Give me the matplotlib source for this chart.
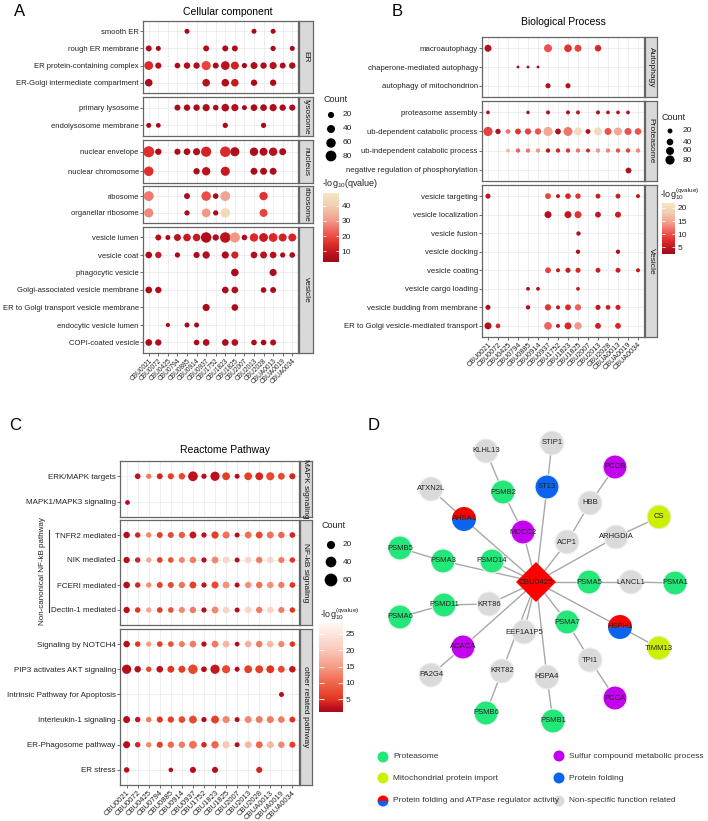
import numpy as np
import matplotlib.pyplot as plt
from matplotlib.colors import LinearSegmentedColormap, Normalize
from matplotlib.cm import ScalarMappable
from matplotlib.patches import Circle, Wedge, Polygon

plt.rcParams['font.family'] = ['Liberation Sans', 'DejaVu Sans']
plt.rcParams['mathtext.default'] = 'regular'

strains = ['CBU0021', 'CBU0072', 'CBU0425', 'CBU0794', 'CBU0885', 'CBU0914',
           'CBU0937', 'CBU1752', 'CBU1823', 'CBU1825', 'CBU2007', 'CBU2013',
           'CBU2028', 'CBUA0013', 'CBUA0019', 'CBUA0034']

# ---- A: cellular component (count, -log10 q), 0 = not enriched
cc_groups = ['ER', 'lysosome', 'nucleus', 'ribosome', 'vesicle']
cc_terms = {
    'ER': ['smooth ER', 'rough ER membrane', 'ER protein-containing complex',
           'ER-Golgi intermediate compartment'],
    'lysosome': ['primary lysosome', 'endolysosome membrane'],
    'nucleus': ['nuclear envelope', 'nuclear chromosome'],
    'ribosome': ['ribosome', 'organellar ribosome'],
    'vesicle': ['vesicle lumen', 'vesicle coat', 'phagocytic vesicle',
                'Golgi-associated vesicle membrane',
                'ER to Golgi transport vesicle membrane',
                'endocytic vesicle lumen', 'COPI-coated vesicle'],
}
cc_count = {
    'smooth ER': [0, 0, 0, 0, 10, 0, 0, 0, 0, 0, 0, 10, 0, 10, 0, 0],
    'rough ER membrane': [18, 10, 0, 0, 0, 0, 18, 0, 18, 18, 0, 0, 0, 12, 0, 10],
    'ER protein-containing complex': [50, 20, 0, 15, 22, 22, 55, 18, 50, 40, 12, 28, 22, 30, 18, 22],
    'ER-Golgi intermediate compartment': [35, 0, 0, 0, 0, 0, 35, 0, 35, 35, 0, 22, 0, 22, 0, 0],
    'primary lysosome': [0, 0, 0, 18, 22, 22, 30, 15, 35, 30, 10, 25, 25, 30, 22, 20],
    'endolysosome membrane': [10, 8, 0, 0, 0, 0, 0, 0, 12, 0, 0, 0, 12, 0, 0, 0],
    'nuclear envelope': [85, 22, 0, 20, 25, 30, 70, 0, 75, 55, 0, 45, 40, 45, 28, 0],
    'nuclear chromosome': [60, 0, 0, 0, 0, 22, 45, 0, 55, 0, 0, 28, 28, 28, 0, 0],
    'ribosome': [65, 0, 0, 0, 18, 0, 60, 15, 65, 0, 0, 0, 45, 0, 0, 0],
    'organellar ribosome': [55, 0, 0, 0, 12, 0, 50, 12, 60, 0, 0, 0, 40, 0, 0, 0],
    'vesicle lumen': [0, 18, 10, 28, 35, 35, 75, 22, 75, 70, 15, 45, 50, 50, 40, 40],
    'vesicle coat': [25, 22, 0, 12, 0, 20, 32, 0, 30, 30, 0, 25, 28, 25, 12, 15],
    'phagocytic vesicle': [0, 0, 0, 0, 0, 0, 0, 0, 0, 35, 0, 0, 0, 30, 0, 0],
    'Golgi-associated vesicle membrane': [25, 22, 0, 0, 0, 0, 0, 0, 25, 25, 0, 0, 15, 18, 0, 0],
    'ER to Golgi transport vesicle membrane': [0, 0, 0, 0, 0, 0, 30, 0, 0, 25, 0, 0, 0, 0, 0, 0],
    'endocytic vesicle lumen': [0, 0, 4, 0, 10, 10, 0, 0, 0, 0, 0, 0, 0, 0, 0, 0],
    'COPI-coated vesicle': [25, 22, 0, 0, 0, 15, 25, 0, 25, 25, 0, 15, 15, 18, 0, 0],
}
cc_q = {
    'smooth ER': [0, 0, 0, 0, 4, 0, 0, 0, 0, 0, 0, 4, 0, 4, 0, 0],
    'rough ER membrane': [5, 4, 0, 0, 0, 0, 6, 0, 5, 6, 0, 0, 0, 4, 0, 4],
    'ER protein-containing complex': [14, 6, 0, 5, 6, 6, 18, 5, 8, 12, 4, 6, 6, 7, 5, 6],
    'ER-Golgi intermediate compartment': [5, 0, 0, 0, 0, 0, 7, 0, 6, 10, 0, 5, 0, 5, 0, 0],
    'primary lysosome': [0, 0, 0, 5, 5, 5, 6, 5, 6, 6, 4, 5, 5, 6, 5, 5],
    'endolysosome membrane': [4, 4, 0, 0, 0, 0, 0, 0, 4, 0, 0, 0, 4, 0, 0, 0],
    'nuclear envelope': [15, 5, 0, 5, 5, 6, 12, 0, 14, 6, 0, 5, 6, 8, 5, 0],
    'nuclear chromosome': [15, 0, 0, 0, 0, 5, 8, 0, 10, 0, 0, 5, 5, 6, 0, 0],
    'ribosome': [26, 0, 0, 0, 5, 0, 20, 5, 32, 0, 0, 0, 16, 0, 0, 0],
    'organellar ribosome': [28, 0, 0, 0, 5, 0, 30, 5, 44, 0, 0, 0, 18, 0, 0, 0],
    'vesicle lumen': [0, 6, 5, 8, 10, 10, 6, 6, 8, 30, 5, 14, 10, 14, 12, 13],
    'vesicle coat': [5, 10, 0, 4, 0, 5, 6, 0, 5, 12, 0, 6, 8, 7, 5, 6],
    'phagocytic vesicle': [0, 0, 0, 0, 0, 0, 0, 0, 0, 5, 0, 0, 0, 5, 0, 0],
    'Golgi-associated vesicle membrane': [5, 6, 0, 0, 0, 0, 0, 0, 5, 6, 0, 0, 5, 5, 0, 0],
    'ER to Golgi transport vesicle membrane': [0, 0, 0, 0, 0, 0, 5, 0, 0, 5, 0, 0, 0, 0, 0, 0],
    'endocytic vesicle lumen': [0, 0, 4, 0, 4, 4, 0, 0, 0, 0, 0, 0, 0, 0, 0, 0],
    'COPI-coated vesicle': [5, 6, 0, 0, 0, 5, 6, 0, 5, 7, 0, 5, 5, 6, 0, 0],
}

# ---- B: biological process
bp_groups = ['Autophagy', 'Proteasome', 'Vesicle']
bp_terms = {
    'Autophagy': ['macroautophagy', 'chaperone-mediated autophagy',
                  'autophagy of mitochondrion'],
    'Proteasome': ['proteasome assembly', 'ub-dependent catabolic process',
                   'ub-independent catabolic process',
                   'negative regulation of phosphorylation'],
    'Vesicle': ['vesicle targeting', 'vesicle localization', 'vesicle fusion',
                'vesicle docking', 'vesicle coating', 'vesicle cargo loading',
                'vesicle budding from membrane',
                'ER to Golgi vesicle-mediated transport'],
}
bp_count = {
    'macroautophagy': [45, 0, 0, 0, 0, 0, 60, 0, 55, 45, 0, 38, 0, 0, 0, 0],
    'chaperone-mediated autophagy': [0, 0, 0, 4, 4, 4, 0, 0, 0, 0, 0, 0, 0, 0, 0, 0],
    'autophagy of mitochondrion': [0, 0, 0, 0, 0, 0, 22, 0, 22, 0, 0, 0, 0, 0, 0, 0],
    'proteasome assembly': [10, 0, 0, 0, 8, 0, 12, 0, 12, 12, 0, 12, 10, 10, 10, 0],
    'ub-dependent catabolic process': [80, 25, 18, 30, 35, 35, 80, 30, 75, 60, 20, 60, 45, 60, 45, 40],
    'ub-independent catabolic process': [0, 0, 10, 15, 15, 15, 15, 15, 15, 15, 12, 15, 15, 15, 15, 15],
    'negative regulation of phosphorylation': [0, 0, 0, 0, 0, 0, 0, 0, 0, 0, 0, 0, 0, 0, 30, 0],
    'vesicle targeting': [22, 0, 0, 0, 0, 0, 30, 12, 28, 25, 0, 20, 0, 20, 0, 12],
    'vesicle localization': [0, 0, 0, 0, 0, 0, 45, 0, 45, 45, 0, 30, 0, 32, 0, 0],
    'vesicle fusion': [0, 0, 0, 0, 0, 0, 0, 0, 0, 15, 0, 0, 0, 0, 0, 0],
    'vesicle docking': [0, 0, 0, 0, 0, 0, 0, 0, 0, 15, 0, 0, 0, 15, 0, 0],
    'vesicle coating': [0, 0, 0, 0, 0, 0, 30, 12, 22, 22, 0, 20, 0, 20, 0, 12],
    'vesicle cargo loading': [0, 0, 0, 0, 10, 10, 0, 0, 0, 10, 0, 0, 0, 0, 0, 0],
    'vesicle budding from membrane': [22, 0, 0, 0, 15, 0, 35, 12, 30, 35, 0, 22, 18, 22, 0, 0],
    'ER to Golgi vesicle-mediated transport': [45, 18, 0, 0, 0, 0, 55, 12, 45, 50, 0, 30, 0, 30, 0, 0],
}
bp_q = {
    'macroautophagy': [4, 0, 0, 0, 0, 0, 10, 0, 8, 9, 0, 7, 0, 0, 0, 0],
    'chaperone-mediated autophagy': [0, 0, 0, 3, 3, 3, 0, 0, 0, 0, 0, 0, 0, 0, 0, 0],
    'autophagy of mitochondrion': [0, 0, 0, 0, 0, 0, 4, 0, 4, 0, 0, 0, 0, 0, 0, 0],
    'proteasome assembly': [4, 0, 0, 0, 3, 0, 4, 0, 4, 5, 0, 4, 4, 4, 4, 0],
    'ub-dependent catabolic process': [9, 4, 12, 8, 9, 10, 15, 4, 12, 20, 4, 20, 10, 15, 10, 10],
    'ub-independent catabolic process': [0, 0, 16, 11, 12, 14, 5, 7, 8, 12, 7, 14, 13, 10, 9, 13],
    'negative regulation of phosphorylation': [0, 0, 0, 0, 0, 0, 0, 0, 0, 0, 0, 0, 0, 0, 4, 0],
    'vesicle targeting': [5, 0, 0, 0, 0, 0, 9, 5, 7, 8, 0, 6, 0, 6, 0, 5],
    'vesicle localization': [0, 0, 0, 0, 0, 0, 4, 0, 5, 8, 0, 5, 0, 6, 0, 0],
    'vesicle fusion': [0, 0, 0, 0, 0, 0, 0, 0, 0, 4, 0, 0, 0, 0, 0, 0],
    'vesicle docking': [0, 0, 0, 0, 0, 0, 0, 0, 0, 4, 0, 0, 0, 4, 0, 0],
    'vesicle coating': [0, 0, 0, 0, 0, 0, 9, 5, 6, 7, 0, 6, 0, 6, 0, 5],
    'vesicle cargo loading': [0, 0, 0, 0, 4, 4, 0, 0, 0, 5, 0, 0, 0, 0, 0, 0],
    'vesicle budding from membrane': [4, 0, 0, 0, 4, 0, 8, 5, 7, 11, 0, 5, 6, 6, 0, 0],
    'ER to Golgi vesicle-mediated transport': [4, 7, 0, 0, 0, 0, 11, 5, 7, 14, 0, 6, 0, 7, 0, 0],
}

# ---- C: reactome pathway
rp_groups = ['MAPK signaling', 'NF-kB signaling', 'other related pathway']
rp_terms = {
    'MAPK signaling': ['ERK/MAPK targets', 'MAPK1/MAPK3 signaling'],
    'NF-kB signaling': ['TNFR2 mediated', 'NIK mediated', 'FCERI mediated',
                        'Dectin-1 mediated'],
    'other related pathway': ['Signaling by NOTCH4', 'PIP3 activates AKT signaling',
                              'Intrinsic Pathway for Apoptosis',
                              'Interleukin-1 signaling', 'ER-Phagosome pathway',
                              'ER stress'],
}
rp_count = {
    'ERK/MAPK targets': [0, 6, 4, 7, 8, 10, 32, 4, 28, 18, 3, 18, 18, 20, 12, 8],
    'MAPK1/MAPK3 signaling': [2, 0, 0, 0, 0, 0, 0, 0, 0, 0, 0, 0, 0, 0, 0, 0],
    'TNFR2 mediated': [10, 5, 5, 7, 7, 9, 12, 4, 14, 13, 3, 12, 12, 12, 10, 6],
    'NIK mediated': [9, 5, 4, 6, 6, 8, 10, 4, 12, 12, 3, 10, 10, 10, 8, 5],
    'FCERI mediated': [11, 5, 5, 7, 7, 9, 12, 4, 13, 12, 3, 10, 10, 10, 9, 6],
    'Dectin-1 mediated': [9, 5, 4, 6, 6, 8, 10, 4, 12, 12, 3, 10, 10, 10, 8, 5],
    'Signaling by NOTCH4': [10, 5, 4, 6, 6, 8, 11, 4, 12, 12, 2, 10, 10, 10, 9, 5],
    'PIP3 activates AKT signaling': [28, 10, 5, 11, 12, 13, 30, 6, 28, 20, 3, 18, 18, 18, 12, 10],
    'Intrinsic Pathway for Apoptosis': [0, 0, 0, 0, 0, 0, 0, 0, 0, 0, 0, 0, 0, 0, 3, 0],
    'Interleukin-1 signaling': [13, 5, 5, 8, 9, 11, 18, 4, 18, 14, 3, 13, 13, 13, 11, 7],
    'ER-Phagosome pathway': [13, 5, 5, 8, 9, 10, 18, 5, 15, 15, 3, 12, 12, 12, 10, 8],
    'ER stress': [5, 0, 0, 0, 1, 0, 8, 0, 8, 0, 0, 0, 8, 0, 0, 0],
}
rp_q = {
    'ERK/MAPK targets': [0, 2.5, 12, 4, 6, 7, 2.5, 2, 2.5, 6, 2, 6, 4, 7, 7, 4],
    'MAPK1/MAPK3 signaling': [2, 0, 0, 0, 0, 0, 0, 0, 0, 0, 0, 0, 0, 0, 0, 0],
    'TNFR2 mediated': [2, 4, 13, 6, 7, 9, 3, 2.5, 6, 11, 2, 11, 7, 11, 10, 4],
    'NIK mediated': [2, 4, 16, 6, 8, 13, 12, 2, 13, 22, 2, 22, 12, 22, 12, 5],
    'FCERI mediated': [2, 4, 14, 6, 7, 11, 6, 2.5, 7, 14, 2, 14, 11, 14, 12, 5],
    'Dectin-1 mediated': [2, 5, 16, 6, 8, 13, 12, 2, 13, 22, 2, 22, 12, 22, 12, 5],
    'Signaling by NOTCH4': [2, 5, 15, 6, 8, 12, 12, 2, 12, 18, 2, 17, 12, 18, 13, 5],
    'PIP3 activates AKT signaling': [2, 2, 7, 2.5, 5, 6, 7, 2, 3, 7, 2, 6, 6, 5, 7, 3],
    'Intrinsic Pathway for Apoptosis': [0, 0, 0, 0, 0, 0, 0, 0, 0, 0, 0, 0, 0, 0, 2, 0],
    'Interleukin-1 signaling': [2, 3, 12, 5, 6, 7, 7, 2, 6, 13, 2, 13, 12, 12, 12, 5],
    'ER-Phagosome pathway': [2, 4, 13, 6, 10, 12, 11, 4, 10, 20, 2, 18, 10, 18, 13, 6],
    'ER stress': [2, 0, 0, 0, 2, 0, 2, 0, 2, 0, 0, 0, 4, 0, 0, 0],
}

# ---- D: interaction network of CBU0425
net_center = 'CBU0425'
net_group = {
    'PSMB2': 'Proteasome', 'PSMB5': 'Proteasome', 'PSMA3': 'Proteasome',
    'PSMD14': 'Proteasome', 'PSMA5': 'Proteasome', 'PSMA1': 'Proteasome',
    'PSMD11': 'Proteasome', 'PSMA6': 'Proteasome', 'PSMA7': 'Proteasome',
    'PSMB6': 'Proteasome', 'PSMB1': 'Proteasome',
    'PCCB': 'Sulfur', 'MCCC2': 'Sulfur', 'ACACA': 'Sulfur', 'PCCA': 'Sulfur',
    'CS': 'Mito', 'TIMM13': 'Mito', 'ST13': 'Folding',
    'AHSA1': 'Split', 'HSPH1': 'Split',
    'STIP1': 'Other', 'KLHL13': 'Other', 'ATXN2L': 'Other', 'HBB': 'Other',
    'ACP1': 'Other', 'ARHGDIA': 'Other', 'LANCL1': 'Other', 'KRT86': 'Other',
    'EEF1A1P5': 'Other', 'TPI1': 'Other', 'PA2G4': 'Other', 'KRT82': 'Other',
    'HSPA4': 'Other',
}
net_edges = [
    ('CBU0425', 'ST13'), ('CBU0425', 'MCCC2'), ('CBU0425', 'AHSA1'),
    ('CBU0425', 'ACP1'), ('CBU0425', 'ARHGDIA'), ('CBU0425', 'PSMD14'),
    ('CBU0425', 'PSMA3'), ('CBU0425', 'PSMA5'), ('CBU0425', 'KRT86'),
    ('CBU0425', 'EEF1A1P5'), ('CBU0425', 'PSMA7'), ('CBU0425', 'HSPH1'),
    ('CBU0425', 'ACACA'), ('CBU0425', 'KRT82'), ('CBU0425', 'HSPA4'),
    ('ST13', 'STIP1'), ('MCCC2', 'PSMB2'), ('PSMB2', 'KLHL13'),
    ('AHSA1', 'ATXN2L'), ('ACP1', 'HBB'), ('HBB', 'PCCB'), ('ARHGDIA', 'CS'),
    ('PSMA3', 'PSMB5'), ('PSMA5', 'LANCL1'), ('LANCL1', 'PSMA1'),
    ('KRT86', 'PSMD11'), ('PSMD11', 'PSMA6'), ('HSPH1', 'TIMM13'),
    ('PSMA7', 'TPI1'), ('TPI1', 'PCCA'), ('ACACA', 'PA2G4'),
    ('KRT82', 'PSMB6'), ('HSPA4', 'PSMB1'),
]
net_legend = [('Proteasome', 'Proteasome'), ('Sulfur', 'Sulfur compound metabolic process'),
              ('Mito', 'Mitochondrial protein import'), ('Folding', 'Protein folding'),
              ('Split', 'Protein folding and ATPase regulator activity'),
              ('Other', 'Non-specific function related')]

# layout of the network (pixel positions as drawn)
node_xy = {
    'CBU0425': (536, 582), 'STIP1': (552, 443), 'KLHL13': (486, 451),
    'PCCB': (615, 467), 'ST13': (547, 487), 'ATXN2L': (431, 489),
    'PSMB2': (503, 492), 'HBB': (590, 503), 'CS': (659, 517),
    'AHSA1': (464, 519), 'MCCC2': (523, 532), 'ACP1': (567, 542),
    'ARHGDIA': (616, 537), 'PSMB5': (400, 548), 'PSMA3': (443, 561),
    'PSMD14': (492, 561), 'PSMA5': (589, 582), 'LANCL1': (631, 582),
    'PSMA1': (675, 583), 'PSMD11': (444, 605), 'KRT86': (489, 604),
    'PSMA6': (400, 617), 'EEF1A1P5': (524, 632), 'PSMA7': (567, 622),
    'HSPH1': (620, 627), 'TIMM13': (659, 648), 'ACACA': (463, 647),
    'TPI1': (590, 660), 'PA2G4': (431, 675), 'KRT82': (502, 671),
    'HSPA4': (547, 677), 'PCCA': (615, 698), 'PSMB6': (486, 713),
    'PSMB1': (553, 721),
}
group_color = {'Proteasome': '#22e87a', 'Sulfur': '#c400f0', 'Mito': '#ccf000',
               'Folding': '#0a64f0', 'Other': '#dadada'}

W, H = 708, 821
fig = plt.figure(figsize=(W / 100, H / 100), dpi=100)


def box(x0, y0, x1, y1):
    return [x0 / W, 1 - y1 / H, (x1 - x0) / W, (y1 - y0) / H]


bg = fig.add_axes([0, 0, 1, 1])
bg.set_xlim(0, W)
bg.set_ylim(H, 0)
bg.axis('off')

cmap_ab = LinearSegmentedColormap.from_list('ab', [
    (0, '#a0081a'), (0.1, '#b8101e'), (0.25, '#dc2a28'), (0.42, '#f05a55'),
    (0.62, '#f2a08e'), (0.82, '#efcfb5'), (1, '#f7e6c4')])
cmap_c = LinearSegmentedColormap.from_list('c', [
    (0, '#a8081a'), (0.06, '#c01420'), (0.14, '#e2341f'), (0.32, '#ef6448'),
    (0.5, '#f49a84'), (0.72, '#f9cdbf'), (1, '#fff8f3')])
norm_a = Normalize(2.8, 48.5)
norm_b = Normalize(2.4, 21.9)
norm_c = Normalize(1.1, 28.3)


def size_a(c):
    return (12 + 1.3 * np.asarray(c)) * 0.5184


def size_b(c):
    return (4 + 1.0 * np.asarray(c)) * 0.5184


def size_c(c):
    return (18 + 2.4 * np.asarray(c)) * 0.5184


def dot_panel(groups, terms, counts, qvals, cmap, norm, size_fn, x0, x1, spans,
              ylab_fs=5.5, xlab_fs=5, strip_w=14):
    for k, grp in enumerate(groups):
        ya, yb = spans[k]
        rows = terms[grp]
        ax = fig.add_axes(box(x0, ya, x1, yb))
        for r, t in enumerate(rows):
            c = np.array(counts[t], dtype=float)
            q = np.array(qvals[t], dtype=float)
            idx = np.nonzero(c)[0]
            ax.scatter(idx, np.full(idx.size, r), s=size_fn(c[idx]), c=q[idx],
                       cmap=cmap, norm=norm, linewidths=0, zorder=3)
        ax.set_xlim(-0.6, len(strains) - 0.4)
        ax.set_ylim(len(rows) - 0.4, -0.6)
        ax.set_yticks(range(len(rows)))
        ax.set_yticklabels(rows, fontsize=ylab_fs, color='#222222')
        ax.set_xticks(range(len(strains)))
        ax.grid(True, color='#ebebeb', lw=0.6)
        ax.set_axisbelow(True)
        for sp in ax.spines.values():
            sp.set_color('#666666')
            sp.set_linewidth(0.9)
        ax.tick_params(length=2, width=0.5, color='#333333', pad=1)
        if k == len(groups) - 1:
            ax.set_xticklabels(strains, rotation=45, ha='right',
                               rotation_mode='anchor', fontsize=xlab_fs,
                               color='#222222')
        else:
            ax.tick_params(axis='x', bottom=False, labelbottom=False)
        st = fig.add_axes(box(x1 + 1, ya, x1 + 1 + strip_w, yb))
        st.set_facecolor('#d9d9d9')
        st.set_xticks([])
        st.set_yticks([])
        for sp in st.spines.values():
            sp.set_color('#666666')
            sp.set_linewidth(0.9)
        st.text(0.5, 0.5, grp, rotation=-90, ha='center', va='center',
                fontsize=6, color='#1a1a1a', transform=st.transAxes)


def legends(cmap, norm, size_fn, breaks, title_xy, dot_x, dot_ys, lab_x,
            bar, ticks, cb_title_xy, cb_title):
    bg.text(*title_xy, 'Count', fontsize=6.5, ha='left', va='center', color='#222222')
    bg.scatter([dot_x] * len(breaks), dot_ys, s=size_fn(breaks), color='black',
               linewidths=0)
    for b, y in zip(breaks, dot_ys):
        bg.text(lab_x, y, str(b), fontsize=6, ha='left', va='center', color='#222222')
    bg.text(*cb_title_xy, cb_title, fontsize=6.5, ha='left', va='center',
            color='#222222')
    cax = fig.add_axes(box(*bar))
    cb = fig.colorbar(ScalarMappable(norm=norm, cmap=cmap), cax=cax)
    cb.outline.set_visible(False)
    cb.set_ticks(ticks)
    cax.tick_params(length=0, labelsize=6, pad=2, labelcolor='#222222')
    cax.hlines(ticks, 0, 0.2, colors='white', lw=0.6)
    cax.hlines(ticks, 0.8, 1, colors='white', lw=0.6)


# panel A
dot_panel(cc_groups, cc_terms, cc_count, cc_q, cmap_ab, norm_a, size_a, 143, 298,
          [(21, 93), (97, 136), (140, 183), (186, 223), (227, 353)],
          ylab_fs=5.5, xlab_fs=4.8)
legends(cmap_ab, norm_a, size_a, [20, 40, 60, 80], (323, 100), 331,
        [115, 129, 143, 156], 343, (323, 193, 339, 262), [10, 20, 30, 40],
        (322, 184), r'-log$_{10}$(qvalue)')

# panel B
dot_panel(bp_groups, bp_terms, bp_count, bp_q, cmap_ab, norm_b, size_b, 482, 644,
          [(37, 97), (101, 181), (185, 337)], ylab_fs=5.6, xlab_fs=5.2, strip_w=12)
legends(cmap_ab, norm_b, size_b, [20, 40, 60, 80], (662, 117), 670,
        [131, 142, 151, 160], 683, (662, 203, 675, 254), [5, 10, 15, 20],
        (660, 194), r'-log$_{10}^{(qvalue)}$')

# panel C
dot_panel(rp_groups, rp_terms, rp_count, rp_q, cmap_c, norm_c, size_c, 120, 299,
          [(461, 517), (520, 625), (629, 785)], ylab_fs=5.8, xlab_fs=5.5, strip_w=12)
legends(cmap_c, norm_c, size_c, [20, 40, 60], (322, 525), 331,
        [545, 562, 580], 343, (319, 623, 343, 712), [5, 10, 15, 20, 25],
        (320, 614), r'-log$_{10}^{(qvalue)}$')
bg.plot([49, 49], [530, 612], color='#333333', lw=0.8)
bg.text(42, 571, 'Non-canonical NF-kB pathway', rotation=90, ha='center',
        va='center', fontsize=5.8, color='#222222')

# panel titles and letters
bg.text(228, 12, 'Cellular component', ha='center', va='center', fontsize=7.5)
bg.text(563, 22, 'Biological Process', ha='center', va='center', fontsize=7.5)
bg.text(225, 450, 'Reactome Pathway', ha='center', va='center', fontsize=7.5)
for lab, x, y in [('A', 20, 12), ('B', 397, 11), ('C', 15, 425), ('D', 374, 425)]:
    bg.text(x, y, lab, ha='center', va='center', fontsize=12)

# panel D network
for a, b in net_edges:
    (xa, ya), (xb, yb) = node_xy[a], node_xy[b]
    bg.plot([xa, xb], [ya, yb], color='#a8a8a8', lw=1.0, zorder=1)
for g, grp in net_group.items():
    x, y = node_xy[g]
    if grp == 'Split':
        bg.add_patch(Wedge((x, y), 12, 180, 360, fc='#ff0000', ec='none', zorder=2))
        bg.add_patch(Wedge((x, y), 12, 0, 180, fc='#0a64f0', ec='none', zorder=2))
    else:
        bg.add_patch(Circle((x, y), 12, fc=group_color[grp], ec='#f0f0f0',
                            lw=0.8, zorder=2))
    bg.text(x, y, g, ha='center', va='center', fontsize=5.5, color='#222222', zorder=3)
cx, cy = node_xy[net_center]
bg.add_patch(Polygon([(cx, cy - 20), (cx + 20, cy), (cx, cy + 20), (cx - 20, cy)],
                     closed=True, fc='#ff0000', ec='none', zorder=4))
bg.text(cx, cy, net_center, ha='center', va='center', fontsize=5.8, color='#222222',
        zorder=5)

leg_pos = [(383, 757), (559, 756), (383, 778), (559, 778), (383, 801), (559, 801)]
for (grp, lab), (x, y) in zip(net_legend, leg_pos):
    if grp == 'Split':
        bg.add_patch(Wedge((x, y), 5.5, 180, 360, fc='#ff0000', ec='none'))
        bg.add_patch(Wedge((x, y), 5.5, 0, 180, fc='#0a64f0', ec='none'))
    else:
        bg.add_patch(Circle((x, y), 5.5, fc=group_color[grp], ec='none'))
    bg.text(x + 10, y, lab, ha='left', va='center', fontsize=6, color='#333333')

fig.savefig('out.png', dpi=100)
